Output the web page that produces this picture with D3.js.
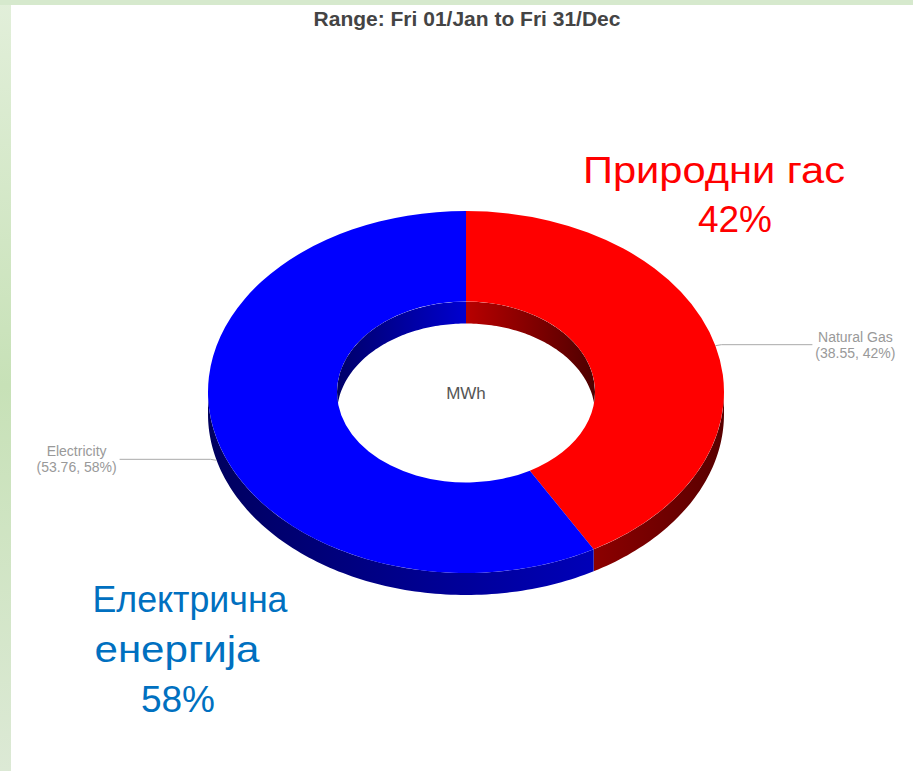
<!DOCTYPE html>
<html>
<head>
<meta charset="utf-8">
<script src="https://cdn.jsdelivr.net/npm/d3@7"></script>
<style>
  html, body { margin: 0; padding: 0; background: #fff; }
  svg { display: block; font-family: "Liberation Sans", Arial, sans-serif; }
</style>
</head>
<body>
<div id="chart"></div>
<script>
// chart data
const categories = ["Natural Gas", "Electricity"]
const values = [38.55, 53.76]
const sliceColors = ["#ff0000", "#0000ff"]
const titleText = "Range: Fri 01/Jan to Fri 31/Dec"
const centerText = "MWh"

// big callouts pasted on top of the chart
const noteLines = [["Природни гас", "42%"], ["Електрична", "енергија", "58%"]]
const noteColors = ["#ff0000", "#0070c0"]

const W = 913, H = 771
const cx = 466, cy = 392, rx = 258, ry = 181, hole = 0.5, depth = 22

const svg = d3.select("#chart").append("svg")
  .attr("width", W).attr("height", H)

const defs = svg.append("defs")

// green frame on the left / top
const frameGrad = defs.append("linearGradient").attr("id", "frame")
  .attr("x1", 0).attr("y1", 0).attr("x2", 0).attr("y2", 1)
frameGrad.append("stop").attr("offset", 0).attr("stop-color", "#e2efda")
frameGrad.append("stop").attr("offset", 0.5).attr("stop-color", "#c7e1b7")
frameGrad.append("stop").attr("offset", 1).attr("stop-color", "#dce9d5")
svg.append("rect").attr("x", 0).attr("y", 0).attr("width", 11).attr("height", H).attr("fill", "url(#frame)")
svg.append("rect").attr("x", 0).attr("y", 0).attr("width", W).attr("height", 5).attr("fill", "#d6e9cd")

// wall shading, per slice (outer front wall / inner back wall)
const shades = {
  outer: [["#8c0000", "#580000"], ["#00005e", "#0000b8"]],
  inner: [["#b80000", "#4e0000"], ["#000068", "#0000d0"]]
}
Object.keys(shades).forEach(k => {
  shades[k].forEach((c, i) => {
    const g = defs.append("linearGradient").attr("id", `${k}${i}`)
      .attr("x1", 0).attr("y1", 0).attr("x2", 1).attr("y2", 0)
    g.append("stop").attr("offset", 0).attr("stop-color", c[0])
    g.append("stop").attr("offset", 1).attr("stop-color", c[1])
  })
})

defs.append("clipPath").attr("id", "holeClip")
  .append("ellipse").attr("cx", cx).attr("cy", cy).attr("rx", rx * hole).attr("ry", ry * hole)

const pie = d3.pie().sort(null).value(d => d)
const arcs = pie(values)
const total = d3.sum(values)
const pct = d3.format(".0%")

const ptsOn = (r, a0, a1, dy) => {
  const n = Math.max(2, Math.ceil(Math.abs(a1 - a0) / 0.02))
  return d3.range(n + 1).map(i => {
    const a = a0 + (a1 - a0) * i / n
    return [cx + rx * r * Math.sin(a), cy - ry * r * Math.cos(a) + dy]
  })
}
const wallPath = (r, a0, a1) => d3.line()(ptsOn(r, a0, a1, 0).concat(ptsOn(r, a1, a0, depth))) + "Z"

const overlap = (a0, a1, lo, hi) => {
  const s = Math.max(a0, lo), e = Math.min(a1, hi)
  return s < e ? [s, e] : null
}

// outer walls, front half only
const gOuter = svg.append("g")
arcs.forEach((d, i) => {
  const seg = overlap(d.startAngle, d.endAngle, Math.PI / 2, Math.PI * 1.5)
  if (!seg) return
  gOuter.append("path").attr("d", wallPath(1, seg[0], seg[1])).attr("fill", `url(#outer${i})`)
})

// top surface
const arc = d3.arc().innerRadius(rx * hole).outerRadius(rx)
svg.append("g")
  .attr("transform", `translate(${cx},${cy}) scale(1,${ry / rx})`)
  .selectAll("path")
  .data(arcs)
  .enter().append("path")
  .attr("d", arc)
  .attr("fill", (d, i) => sliceColors[i])

// inner walls, back half seen through the hole
const gInner = svg.append("g").attr("clip-path", "url(#holeClip)")
arcs.forEach((d, i) => {
  [[0, Math.PI / 2], [Math.PI * 1.5, Math.PI * 2]].forEach(([lo, hi]) => {
    const seg = overlap(d.startAngle, d.endAngle, lo, hi)
    if (!seg) return
    gInner.append("path").attr("d", wallPath(hole, seg[0], seg[1])).attr("fill", `url(#inner${i})`)
  })
})

// centre label
svg.append("text")
  .attr("x", cx).attr("y", cy + 7)
  .attr("text-anchor", "middle")
  .attr("font-size", 17)
  .attr("fill", "#555")
  .text(centerText)

// leader lines + data labels
const gLab = svg.append("g")
arcs.forEach((d, i) => {
  const mid = (d.startAngle + d.endAngle) / 2
  const right = Math.sin(mid) > 0
  const front = Math.cos(mid) < 0
  const ax = cx + rx * Math.sin(mid)
  const ay = cy - ry * Math.cos(mid) + (front ? depth : 0)
  const ly = ay - 1
  const ex = ax + (right ? 97 : -97)
  const tx = ex + (right ? 43 : -43)
  gLab.append("path")
    .attr("d", d3.line()([[ax, ay], [ax + (right ? 6 : -6), ly], [ex, ly]]))
    .attr("fill", "none").attr("stroke", "#aaa").attr("stroke-width", 1)
  const t = gLab.append("text")
    .attr("y", ly - 3)
    .attr("text-anchor", "middle")
    .attr("font-size", 14)
    .attr("fill", "#999")
  t.append("tspan").attr("x", tx).text(categories[i])
  t.append("tspan").attr("x", tx).attr("dy", 16)
    .text(`(${values[i]}, ${pct(values[i] / total)})`)
})

// title
svg.append("text")
  .attr("x", cx + 1).attr("y", 26)
  .attr("text-anchor", "middle")
  .attr("font-size", 21)
  .attr("font-weight", "bold")
  .attr("fill", "#444")
  .text(titleText)

// callouts (x, baseline y, width of the line in the picture)
const notePos = [
  [[714, 183, 262], [735, 232, 0]],
  [[190, 612, 195], [177, 662, 165], [178, 712, 0]]
]
noteLines.forEach((lines, i) => {
  lines.forEach((s, j) => {
    const p = notePos[i][j]
    const t = svg.append("text")
      .attr("x", p[0]).attr("y", p[1])
      .attr("text-anchor", "middle")
      .attr("font-size", 37)
      .attr("fill", noteColors[i])
      .text(s)
    if (p[2]) t.attr("textLength", p[2]).attr("lengthAdjust", "spacingAndGlyphs")
  })
})
</script>
</body>
</html>
